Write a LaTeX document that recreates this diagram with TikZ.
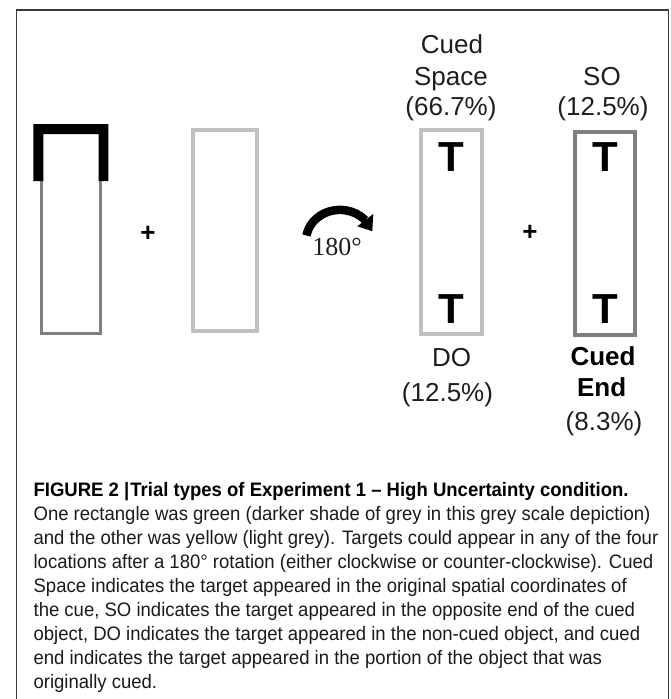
\documentclass[tikz,border=0pt]{standalone}
\usepackage{fontspec}
\setmainfont{Liberation Sans}
\newfontfamily\capfont[FakeStretch=0.95]{Liberation Sans}
\newfontfamily\degfont{Liberation Serif}
\usetikzlibrary{arrows.meta}
\definecolor{darkgrey}{HTML}{808080}
\definecolor{lightgrey}{HTML}{C0C0C0}
\definecolor{framecol}{HTML}{3A3A3A}
\definecolor{labelcol}{HTML}{1E1E1E}
\definecolor{captext}{HTML}{1A1A1A}
\begin{document}
\begin{tikzpicture}[x=1pt,y=-1pt,
  lbl/.style={font=\fontsize{26}{26}\selectfont, text=labelcol, inner sep=0pt, anchor=base},
  blbl/.style={font=\fontsize{26}{26}\selectfont\bfseries, text=black, inner sep=0pt, anchor=base},
  tmark/.style={font=\fontsize{42}{42}\selectfont\bfseries, text=black, inner sep=0pt, anchor=base},
  plusmark/.style={font=\fontsize{26}{26}\selectfont\bfseries, text=black, inner sep=0pt},
  caprow/.style={font=\capfont\fontsize{19.5}{24}\selectfont, text=captext, inner sep=0pt, anchor=base west},
  objbox/.style={draw, inner sep=0pt, fill=none},
]
\useasboundingbox (0,0) rectangle (671,699);
% frame
\draw[framecol, line width=1.5] (16.5,699) -- (16.5,10) -- (668.5,10) -- (668.5,699);

% left cued object
\node[objbox, draw=darkgrey, line width=3, minimum width=59pt, minimum height=204pt] (cueobj) at (70.5,231) {};
\fill[black] (33.3,181) -- (33.3,124) -- (108.3,124) -- (108.3,181) -- (98.6,181) -- (98.6,134) -- (43.3,134) -- (43.3,181) -- cycle;
\node[plusmark] (plusA) at (148,234) {+};
\node[objbox, draw=lightgrey, line width=3.3, minimum width=64pt, minimum height=201pt] (otherobj) at (225,230.5) {};

% rotation arrow
\coordinate (arcstart) at (306.5,235.5);
\draw[line width=8.5] (arcstart) arc[start angle=-170, end angle=-42, x radius=34, y radius=31] coordinate (arcend);
\fill[black] ([shift={(8,-6.2)}]arcend) -- ([shift={(7,11)}]arcend) -- ([shift={(-8,6.2)}]arcend) -- cycle;
\node[font=\degfont\fontsize{26}{26}\selectfont, text=labelcol, inner sep=0pt, anchor=base] (deg) at (337,255) {180°};

% rotated objects
\node[objbox, draw=lightgrey, line width=3.3, minimum width=61pt, minimum height=204pt] (rotlight) at (451.5,232) {};
\node[plusmark] (plusB) at (530,233) {+};
\node[objbox, draw=darkgrey, line width=4, minimum width=60pt, minimum height=203pt] (rotdark) at (605.3,233.2) {};

% targets
\node[tmark] (t1) at (451.7,171.7) {T};
\node[tmark] (t2) at (451.7,323) {T};
\node[tmark] (t3) at (605.7,171.7) {T};
\node[tmark] (t4) at (605.7,323) {T};

% labels
\node[lbl] (cs1) at (452,53.5) {Cued};
\node[lbl] (cs2) at (451,85) {Space};
\node[lbl] (cs3) at (451,115.5) {(66.7\%)};
\node[lbl] (so1) at (602,85) {SO};
\node[lbl] (so2) at (603,115.5) {(12.5\%)};
\node[lbl] (do1) at (451.7,366.7) {DO};
\node[lbl] (do2) at (447.5,401.7) {(12.5\%)};
\node[blbl] (ce1) at (603,365) {Cued};
\node[blbl] (ce2) at (601.7,396.7) {End};
\node[lbl] (ce3) at (604,430) {(8.3\%)};

% caption
\node[caprow, font=\capfont\fontsize{19.5}{24}\selectfont\bfseries, text=black] (cap1) at (33.4,496) {FIGURE 2 |\kern1pt Trial types of Experiment 1 – High Uncertainty condition.};
\node[caprow] (cap2) at (33.4,520) {One rectangle was green (darker shade of grey in this grey scale depiction)};
\node[caprow] (cap3) at (33.4,544) {and the other was yellow (light grey). Targets could appear in any of the four};
\node[caprow] (cap4) at (33.4,568) {locations after a 180° rotation (either clockwise or counter-clockwise). Cued};
\node[caprow] (cap5) at (33.4,592) {Space indicates the target appeared in the original spatial coordinates of};
\node[caprow] (cap6) at (33.4,616) {the cue, SO indicates the target appeared in the opposite end of the cued};
\node[caprow] (cap7) at (33.4,640) {object, DO indicates the target appeared in the non-cued object, and cued};
\node[caprow] (cap8) at (33.4,664) {end indicates the target appeared in the portion of the object that was};
\node[caprow] (cap9) at (33.4,688) {originally cued.};
\end{tikzpicture}
\end{document}
